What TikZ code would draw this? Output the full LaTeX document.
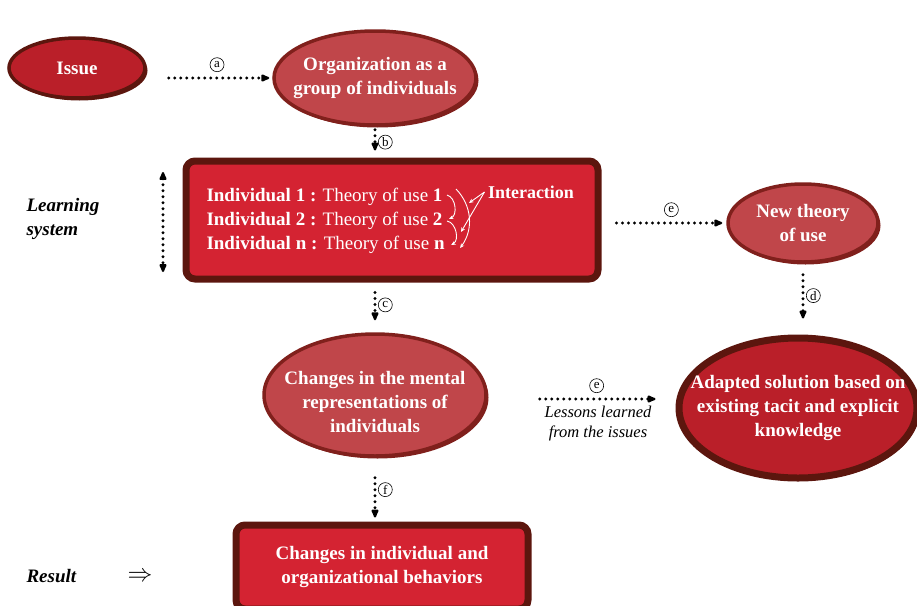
\documentclass[tikz,border=0pt]{standalone}
\usepackage{fontspec}
\setmainfont{Liberation Serif}
\usetikzlibrary{shapes.geometric,arrows.meta,shadows}

\definecolor{rimdark}{RGB}{92,22,14}
\definecolor{rimmid}{RGB}{128,32,28}
\definecolor{darkred}{RGB}{186,31,41}
\definecolor{softred}{RGB}{192,70,74}
\definecolor{boxred}{RGB}{212,35,50}

\tikzset{
  bubble/.style={ellipse, fill=softred, draw=rimmid, line width=3.5pt, inner sep=0pt,
    drop shadow={shadow xshift=2.5pt, shadow yshift=-2.5pt, fill=rimmid, opacity=1}},
  darkbubble/.style={ellipse, fill=darkred, draw=rimdark, line width=3.5pt, inner sep=0pt,
    drop shadow={shadow xshift=2.5pt, shadow yshift=-2.5pt, fill=rimdark, opacity=1}},
  bubtext/.style={text=white, font=\fontsize{19}{24}\selectfont\bfseries, align=center},
  panel/.style={rectangle, rounded corners=9pt, fill=boxred, draw=rimdark, line width=7pt,
    text=white, font=\fontsize{19}{24}\selectfont\bfseries, align=center},
  theory/.style={anchor=west, text=white, font=\fontsize{19}{24}\selectfont},
  sidetext/.style={anchor=west, align=left, font=\fontsize{19}{24}\selectfont\bfseries\itshape},
  dotarrow/.style={-{Latex[length=11pt,width=9pt,round]}, line width=3.3pt, line cap=round,
    dash pattern=on 0pt off 6pt},
  circlab/.style={circle, draw=black, solid, line width=0.6pt, inner sep=0pt, minimum size=14pt,
    font=\fontsize{13}{13}\selectfont},
  whitearrow/.style={white, line width=0.9pt, -{Stealth[length=4.5pt,width=4pt]}}
}

\begin{document}
\begin{tikzpicture}[x=1pt,y=-1pt]
\useasboundingbox (0,0) rectangle (917,605);

% ellipses and panels
\node[darkbubble, minimum width=136pt, minimum height=60pt] (issue) at (77,68) {};
\node[bubtext] (issuetxt) at (issue) {Issue};
\node[bubble, minimum width=202pt, minimum height=94pt] (org) at (375,78) {};
\node[bubtext] (orgtxt) at (org) {Organization as a\\group of individuals};

\node[panel, minimum width=412pt, minimum height=118pt] (mainbox) at (392,220) {};
\node[theory] (ind1) at (203,197) {\textbf{Individual 1 :} Theory of use \textbf{1}};
\node[theory] (ind2) at (203,221) {\textbf{Individual 2 :} Theory of use \textbf{2}};
\node[theory] (indn) at (203,245) {\textbf{Individual n :} Theory of use \textbf{n}};
\node[text=white, font=\fontsize{18}{20}\selectfont\bfseries] (inter) at (531,192) {Interaction};

\node[bubble, minimum width=150pt, minimum height=78pt] (newth) at (803,223) {};
\node[bubtext] (newthtxt) at (newth) {New theory\\of use};

\node[bubble, minimum width=222pt, minimum height=122pt] (mental) at (375,395) {};
\node[bubtext] (mentaltxt) at (375,402) {Changes in the mental\\representations of\\individuals};

\node[darkbubble, line width=7pt, minimum width=238pt, minimum height=140pt] (adapt) at (798,408) {};
\node[bubtext] (adapttxt) at (adapt) {Adapted solution based on\\existing tacit and explicit\\knowledge};

\node[panel, minimum width=292pt, minimum height=84pt] (behav) at (382,567)
  {Changes in individual and\\organizational behaviors};

% side texts
\node[sidetext] (learn) at (23,219) {Learning\\system};
\node[sidetext] (result) at (23,576) {Result};
\node[font=\fontsize{24}{24}\selectfont] (implies) at (140,577) {$\Rightarrow$};
\node[font=\fontsize{16.5}{20}\selectfont\itshape, align=center] (lessons) at (598,424)
  {Lessons learned\\from the issues};

% dotted connectors
\draw[dotarrow, shorten <=22pt, shorten >=3pt] (issue.east |- org.west) -- (org.west)
  node[circlab, pos=0.56, above=6pt] (la) {a};
\draw[dotarrow, shorten <=3pt, shorten >=7pt] (org.south) -- (org.south |- mainbox.north)
  node[circlab, midway, right=3pt] (lb) {b};
\draw[dotarrow, shorten <=15pt, shorten >=4pt] (mainbox.east |- newth.west) -- (newth.west)
  node[circlab, pos=0.56, above=6pt] (le1) {e};
\draw[dotarrow, shorten <=11pt, shorten >=16pt] (newth.south) -- (newth.south |- adapt.north)
  node[circlab, pos=0.45, right=3pt] (ld) {d};
\draw[dotarrow, shorten <=10pt, shorten >=12pt] (mental.north |- mainbox.south) -- (mental.north)
  node[circlab, pos=0.45, right=3pt] (lc) {c};
\draw[dotarrow, shorten <=52pt, shorten >=20pt] ([yshift=-4pt]mental.east) -- ([yshift=-4pt]mental.east -| adapt.west)
  node[circlab, pos=0.58, above=6pt] (le2) {e};
\draw[dotarrow, shorten <=20pt, shorten >=4pt] (mental.south) -- (mental.south |- behav.north)
  node[circlab, pos=0.5, right=3pt] (lf) {f};

% learning system span
\coordinate (lstop) at (163,172);
\coordinate (lsbot) at (163,272);
\draw[dotarrow, {Latex[length=11pt,width=9pt,round]}-{Latex[length=11pt,width=9pt,round]}] (lstop) -- (lsbot);

% interaction arrows
\coordinate (hit1) at (469,203);
\coordinate (hit2) at (461,232);
\draw[whitearrow] (inter.west) -- (hit1);
\draw[whitearrow] (inter.west) -- (hit2);
\draw[whitearrow] ([xshift=1pt,yshift=2pt]ind1.east) to[bend left=70] ([xshift=3pt,yshift=2pt]ind2.east);
\draw[whitearrow] ([xshift=1pt]ind2.east) to[bend left=70] ([xshift=3pt]indn.east);
\draw[whitearrow] ([xshift=10pt,yshift=8pt]ind1.east) to[bend left=40] ([xshift=12pt,yshift=-3pt]indn.east);
\end{tikzpicture}
\end{document}
